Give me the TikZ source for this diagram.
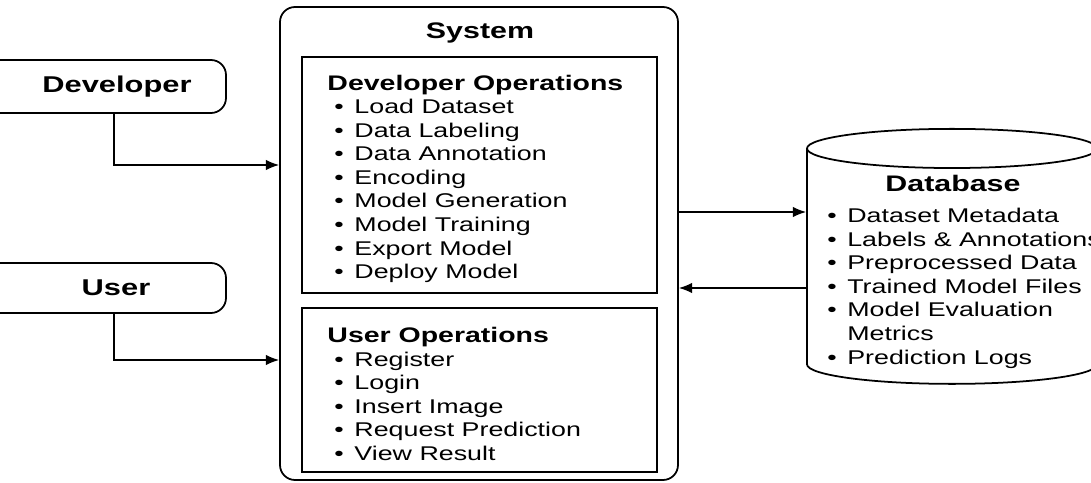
\documentclass[tikz,border=0pt]{standalone}
\usepackage{fontspec}
\setmainfont{Liberation Sans}[FakeStretch=1.35]
\usetikzlibrary{shapes.geometric, arrows.meta, positioning}
\tikzstyle{actor} = [rectangle, rounded corners=0.3cm, minimum width=4.92cm, minimum height=1.06cm, text centered, draw=black, line width=1pt, font=\fontsize{13}{15}\selectfont\bfseries]
\tikzstyle{system} = [rectangle, rounded corners=0.3cm, minimum width=7.96cm, minimum height=9.46cm, draw=black, line width=1pt]
\tikzstyle{opsbox} = [rectangle, minimum width=7.1cm, draw=black, line width=1pt]
\tikzstyle{store} = [cylinder, shape border rotate=90, aspect=0.135, inner sep=0.1cm, minimum width=5.8cm, minimum height=5.1cm, draw=black, line width=1pt]
\tikzstyle{itemlist} = [align=left, inner sep=0pt, font=\fontsize{11.3}{13.4}\selectfont]
\tikzstyle{title} = [font=\fontsize{12.8}{15}\selectfont\bfseries]
\tikzstyle{arrow} = [line width=0.9pt, -{Latex[length=7.5pt,width=6pt]}]
\newcommand{\itm}[1]{\hspace*{0.14cm}\makebox[0.4cm][l]{\textbullet}#1}
\newcommand{\head}[1]{{\fontsize{12}{14}\selectfont\bfseries #1}}

\begin{document}
\begin{tikzpicture}
\useasboundingbox (0,0) rectangle (21.82,9.64);
% Actors
\node (dev) [actor] at (2.06,7.91) {\hspace*{0.56cm}Developer};
\node (user) [actor, minimum height=1cm] at (2.06,3.88) {\hspace*{0.52cm}User};

% System
\node (sys) [system] at (9.58,4.77) {};
\node (systitle) [title] at (9.6,8.98) {System};
\node (devops) [opsbox, minimum height=4.72cm] at (9.59,6.14) {};
\node (userops) [opsbox, minimum height=3.28cm] at (9.59,1.84) {};
\node (devlist) [itemlist, anchor=north west] at ([xshift=0.52cm, yshift=-0.37cm]devops.north west) {\head{Developer Operations}\\
  \itm{Load Dataset}\\ \itm{Data Labeling}\\ \itm{Data Annotation}\\ \itm{Encoding}\\
  \itm{Model Generation}\\ \itm{Model Training}\\ \itm{Export Model}\\ \itm{Deploy Model}};
\node (userlist) [itemlist, anchor=north west] at ([xshift=0.52cm, yshift=-0.4cm]userops.north west) {\head{User Operations}\\
  \itm{Register}\\ \itm{Login}\\ \itm{Insert Image}\\ \itm{Request Prediction}\\ \itm{View Result}};

% Database
\node (db) [store, anchor=north] at (19.04,7.08) {\rule{5.6cm}{0pt}};
\node (dbtitle) [title] at (19.06,5.98) {Database};
\node (dblist) [itemlist, anchor=north west] at (16.4,5.48) {\itm{Dataset Metadata}\\ \itm{Labels \& Annotations}\\
  \itm{Preprocessed Data}\\ \itm{Trained Model Files}\\ \itm{Model Evaluation}\\ \hspace*{0.54cm}Metrics\\ \itm{Prediction Logs}};

% Arrows
\coordinate (devin) at (sys.west |- 0,6.34);
\coordinate (userin) at (sys.west |- 0,2.44);
\draw [arrow] ([xshift=0.22cm]dev.south) |- (devin);
\draw [arrow] ([xshift=0.22cm]user.south) |- (userin);
\draw [arrow] (sys.east |- 0,5.4) -- (db.west |- 0,5.4);
\draw [arrow] (db.west |- 0,3.88) -- (sys.east |- 0,3.88);

\end{tikzpicture}
\end{document}
